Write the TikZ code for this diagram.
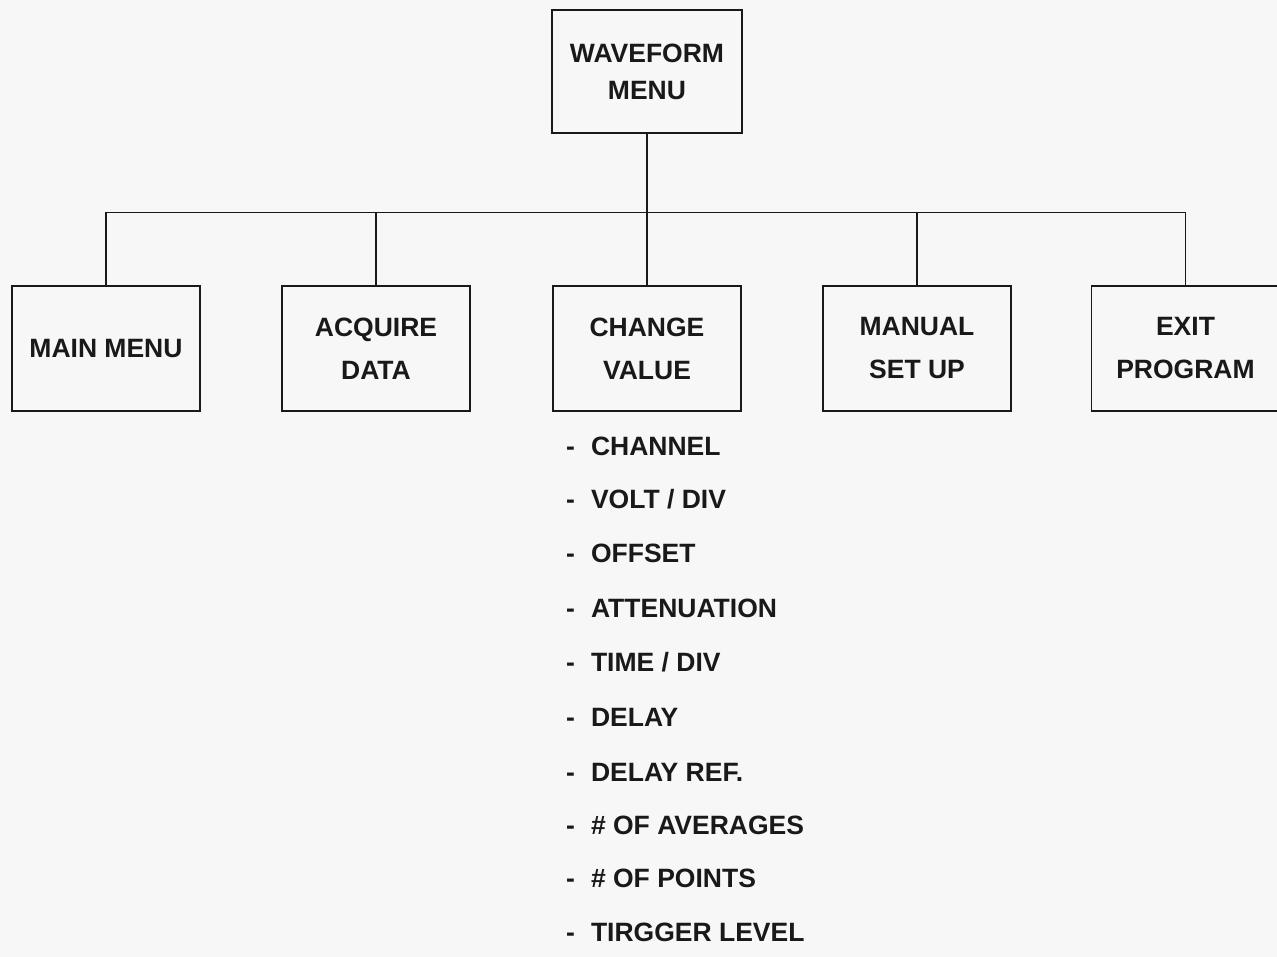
\documentclass[tikz,border=0pt]{standalone}
\usepackage{fontspec}
\setmainfont{Liberation Sans}
\begin{document}
\begin{tikzpicture}[x=1pt,y=-1pt,
  menubox/.style={draw=black!90, line width=1.6pt, fill=none, inner sep=0pt,
    minimum width=188pt, minimum height=125pt, align=center,
    font=\bfseries\fontsize{26.5}{43}\selectfont, text=black!90},
  topbox/.style={menubox, minimum width=190pt, minimum height=123pt,
    font=\bfseries\fontsize{26.5}{37}\selectfont},
  wire/.style={draw=black!90, line width=1.6pt},
  item/.style={anchor=base west, inner sep=0pt, font=\bfseries\fontsize{26.5}{30}\selectfont, text=black!90}
]
\fill[black!3] (0,0) rectangle (1277,957);
\useasboundingbox (0,0) rectangle (1277,957);

\node[topbox] (wave) at (647,71.5) {WAVEFORM\\MENU};

\node[menubox] (main) at (106,348.5) {MAIN MENU};
\node[menubox] (acq)  at (376,348.5) {ACQUIRE\\DATA};
\node[menubox] (chg)  at (647,348.5) {CHANGE\\VALUE};
\node[menubox] (man)  at (917,348.5) {MANUAL\\SET UP};
\node[menubox] (exit) at (1185.5,348.5) {EXIT\\PROGRAM};

\coordinate (bus) at (647,212.5);
\draw[wire] (wave.south) -- (chg.north);
\draw[wire] (main.north) |- (bus) -| (exit.north);
\draw[wire] (acq.north) -- (acq.north |- bus);
\draw[wire] (man.north) -- (man.north |- bus);

\node[item] (i1)  at (566,455) {-\hspace{16pt}CHANNEL};
\node[item] (i2)  at (566,508) {-\hspace{16pt}VOLT / DIV};
\node[item] (i3)  at (566,562) {-\hspace{16pt}OFFSET};
\node[item] (i4)  at (566,617) {-\hspace{16pt}ATTENUATION};
\node[item] (i5)  at (566,671) {-\hspace{16pt}TIME / DIV};
\node[item] (i6)  at (566,726) {-\hspace{16pt}DELAY};
\node[item] (i7)  at (566,781) {-\hspace{16pt}DELAY REF.};
\node[item] (i8)  at (566,834) {-\hspace{16pt}\# OF AVERAGES};
\node[item] (i9)  at (566,887) {-\hspace{16pt}\# OF POINTS};
\node[item] (i10) at (566,941) {-\hspace{16pt}TIRGGER LEVEL};
\end{tikzpicture}
\end{document}
